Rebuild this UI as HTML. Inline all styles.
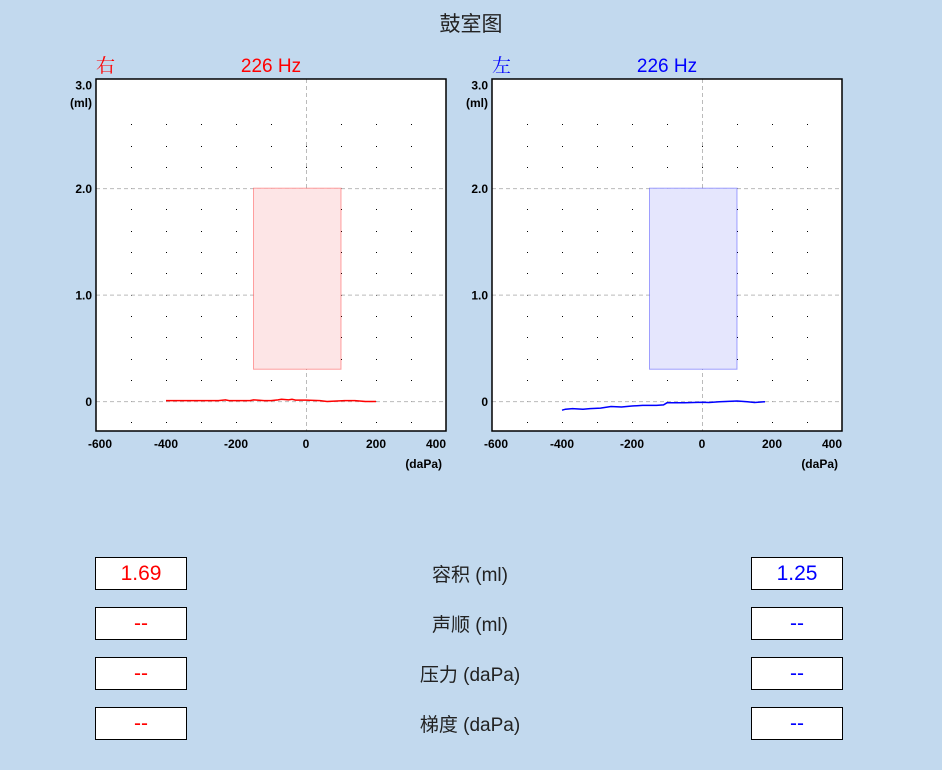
<!DOCTYPE html>
<html><head><meta charset="utf-8"><style>
body{margin:0;width:942px;height:770px;background:#c2d9ee;font-family:"Liberation Sans","Noto Sans CJK SC",sans-serif;overflow:hidden;position:relative}
.box{position:absolute;width:90px;height:31px;background:#fff;border:1px solid #000;font-size:21px;text-align:center;line-height:31px}
.lbl{position:absolute;left:330px;width:280px;text-align:center;font-size:19px;color:#222}
</style></head><body>
<div style="position:absolute;left:0;width:942px;top:8px;text-align:center;font-size:21px;color:#222;font-family:'Noto Sans CJK SC',sans-serif">鼓室图</div>
<svg id="svg" width="942" height="520" style="position:absolute;left:0;top:0"></svg>
<div class="box" style="left:95px;top:557px;color:#f00">1.69</div>
<div class="box" style="left:95px;top:607px;color:#f00">--</div>
<div class="box" style="left:95px;top:657px;color:#f00">--</div>
<div class="box" style="left:95px;top:707px;color:#f00">--</div>
<div class="box" style="left:751px;top:557px;color:#00f">1.25</div>
<div class="box" style="left:751px;top:607px;color:#00f">--</div>
<div class="box" style="left:751px;top:657px;color:#00f">--</div>
<div class="box" style="left:751px;top:707px;color:#00f">--</div>
<div class="lbl" style="top:560px">容积 (ml)</div>
<div class="lbl" style="top:610px">声顺 (ml)</div>
<div class="lbl" style="top:660px">压力 (daPa)</div>
<div class="lbl" style="top:710px">梯度 (daPa)</div>
<script>
const xTicks=[-600,-400,-200,0,200,400];
const yTicks=[0,1.0,2.0,3.0];
const yTickLabels=["0","1.0","2.0","3.0"];
const normalBox=[-150,100,0.3,2.0];
const rightX=[-400,-350,-300,-250,-230,-220,-160,-150,-120,-100,-80,-70,-50,-40,-30,-20,0,40,60,110,140,170,200];
const rightY=[0.005,0.005,0.005,0.005,0.012,0.005,0.005,0.012,0.005,0.005,0.012,0.018,0.012,0.018,0.01,0.01,0.01,0.005,-0.003,0.005,0.005,-0.003,-0.003];
const leftX=[-400,-390,-370,-340,-320,-290,-260,-230,-200,-170,-130,-110,-100,-80,-50,0,20,50,100,130,150,180];
const leftY=[-0.085,-0.075,-0.07,-0.075,-0.07,-0.065,-0.05,-0.055,-0.045,-0.04,-0.04,-0.035,-0.015,-0.015,-0.015,-0.01,-0.012,-0.005,0.002,-0.005,-0.012,-0.005];
const svg=document.getElementById('svg');const NS='http://www.w3.org/2000/svg';
function mk(t,a,p){const e=document.createElementNS(NS,t);for(const k in a)e.setAttribute(k,a[k]);p.appendChild(e);return e;}
function panel(L,side,color,fill,xs,ys,name,title){
 const T=79,W=350,H=352,x0=-600,x1=400,y0=-0.28,y1=3.025;
 const sx=v=>L+(v-x0)/(x1-x0)*W, sy=v=>T+H-(v-y0)/(y1-y0)*H;
 const g=mk('g',{},svg);
 mk('rect',{x:L,y:T,width:W,height:H,fill:'#fff'},g);
 for(let xv=-500;xv<=300;xv+=100)for(let yv=-0.2;yv<=2.61;yv+=0.2){mk('rect',{x:Math.round(sx(xv)),y:Math.round(sy(yv)),width:1,height:1,fill:'#000'},g);}
 [0,1,2].forEach(v=>mk('line',{x1:L,x2:L+W,y1:sy(v)+0.5,y2:sy(v)+0.5,stroke:'#bbb','stroke-dasharray':'4 3'},g));
 mk('line',{x1:sx(0)+0.5,x2:sx(0)+0.5,y1:T,y2:T+H,stroke:'#bbb','stroke-dasharray':'4 3'},g);
 const r=mk('rect',{x:sx(normalBox[0]),y:sy(normalBox[3]),width:sx(normalBox[1])-sx(normalBox[0]),height:sy(normalBox[2])-sy(normalBox[3]),fill:fill,stroke:color,'stroke-opacity':0.35,'stroke-width':1},g);
 
 let d='';xs.forEach((v,i)=>{d+=(i?'L':'M')+sx(v).toFixed(1)+' '+sy(ys[i]).toFixed(1);});
 const p=mk('path',{d:d,fill:'none',stroke:color,'stroke-width':1.5},g);
 mk('rect',{x:L,y:T,width:W,height:H,fill:'none',stroke:'#000','stroke-width':1.5},g);
 xTicks.forEach(v=>{const t=mk('text',{x:sx(v)+(v==-600?4:v==400?-10:0),y:448,'text-anchor':'middle','font-size':12,'font-weight':'bold'},g);t.textContent=v;});
 yTicks.forEach((v,i)=>{const t=mk('text',{x:L-4,y:sy(v)+(v==3?8:5),'text-anchor':'end','font-size':12,'font-weight':'bold'},g);t.textContent=yTickLabels[i];});
 let t=mk('text',{x:L-4,y:107,'text-anchor':'end','font-size':12,'font-weight':'bold'},g);t.textContent='(ml)';
 t=mk('text',{x:L+W-4,y:468,'text-anchor':'end','font-size':12,'font-weight':'bold'},g);t.textContent='(daPa)';
 t=mk('text',{x:L,y:72,'font-size':19,fill:color,'font-family':'Noto Serif CJK SC,serif'},g);t.textContent=side;
 t=mk('text',{x:L+175,y:72,'text-anchor':'middle','font-size':19,fill:color},g);t.textContent=title;
}
panel(96,'右','#f00','#fde5e6',rightX,rightY,'right-ear-chart','226 Hz');
panel(492,'左','#00f','#e5e6fd',leftX,leftY,'left-ear-chart','226 Hz');
</script>
</body></html>
